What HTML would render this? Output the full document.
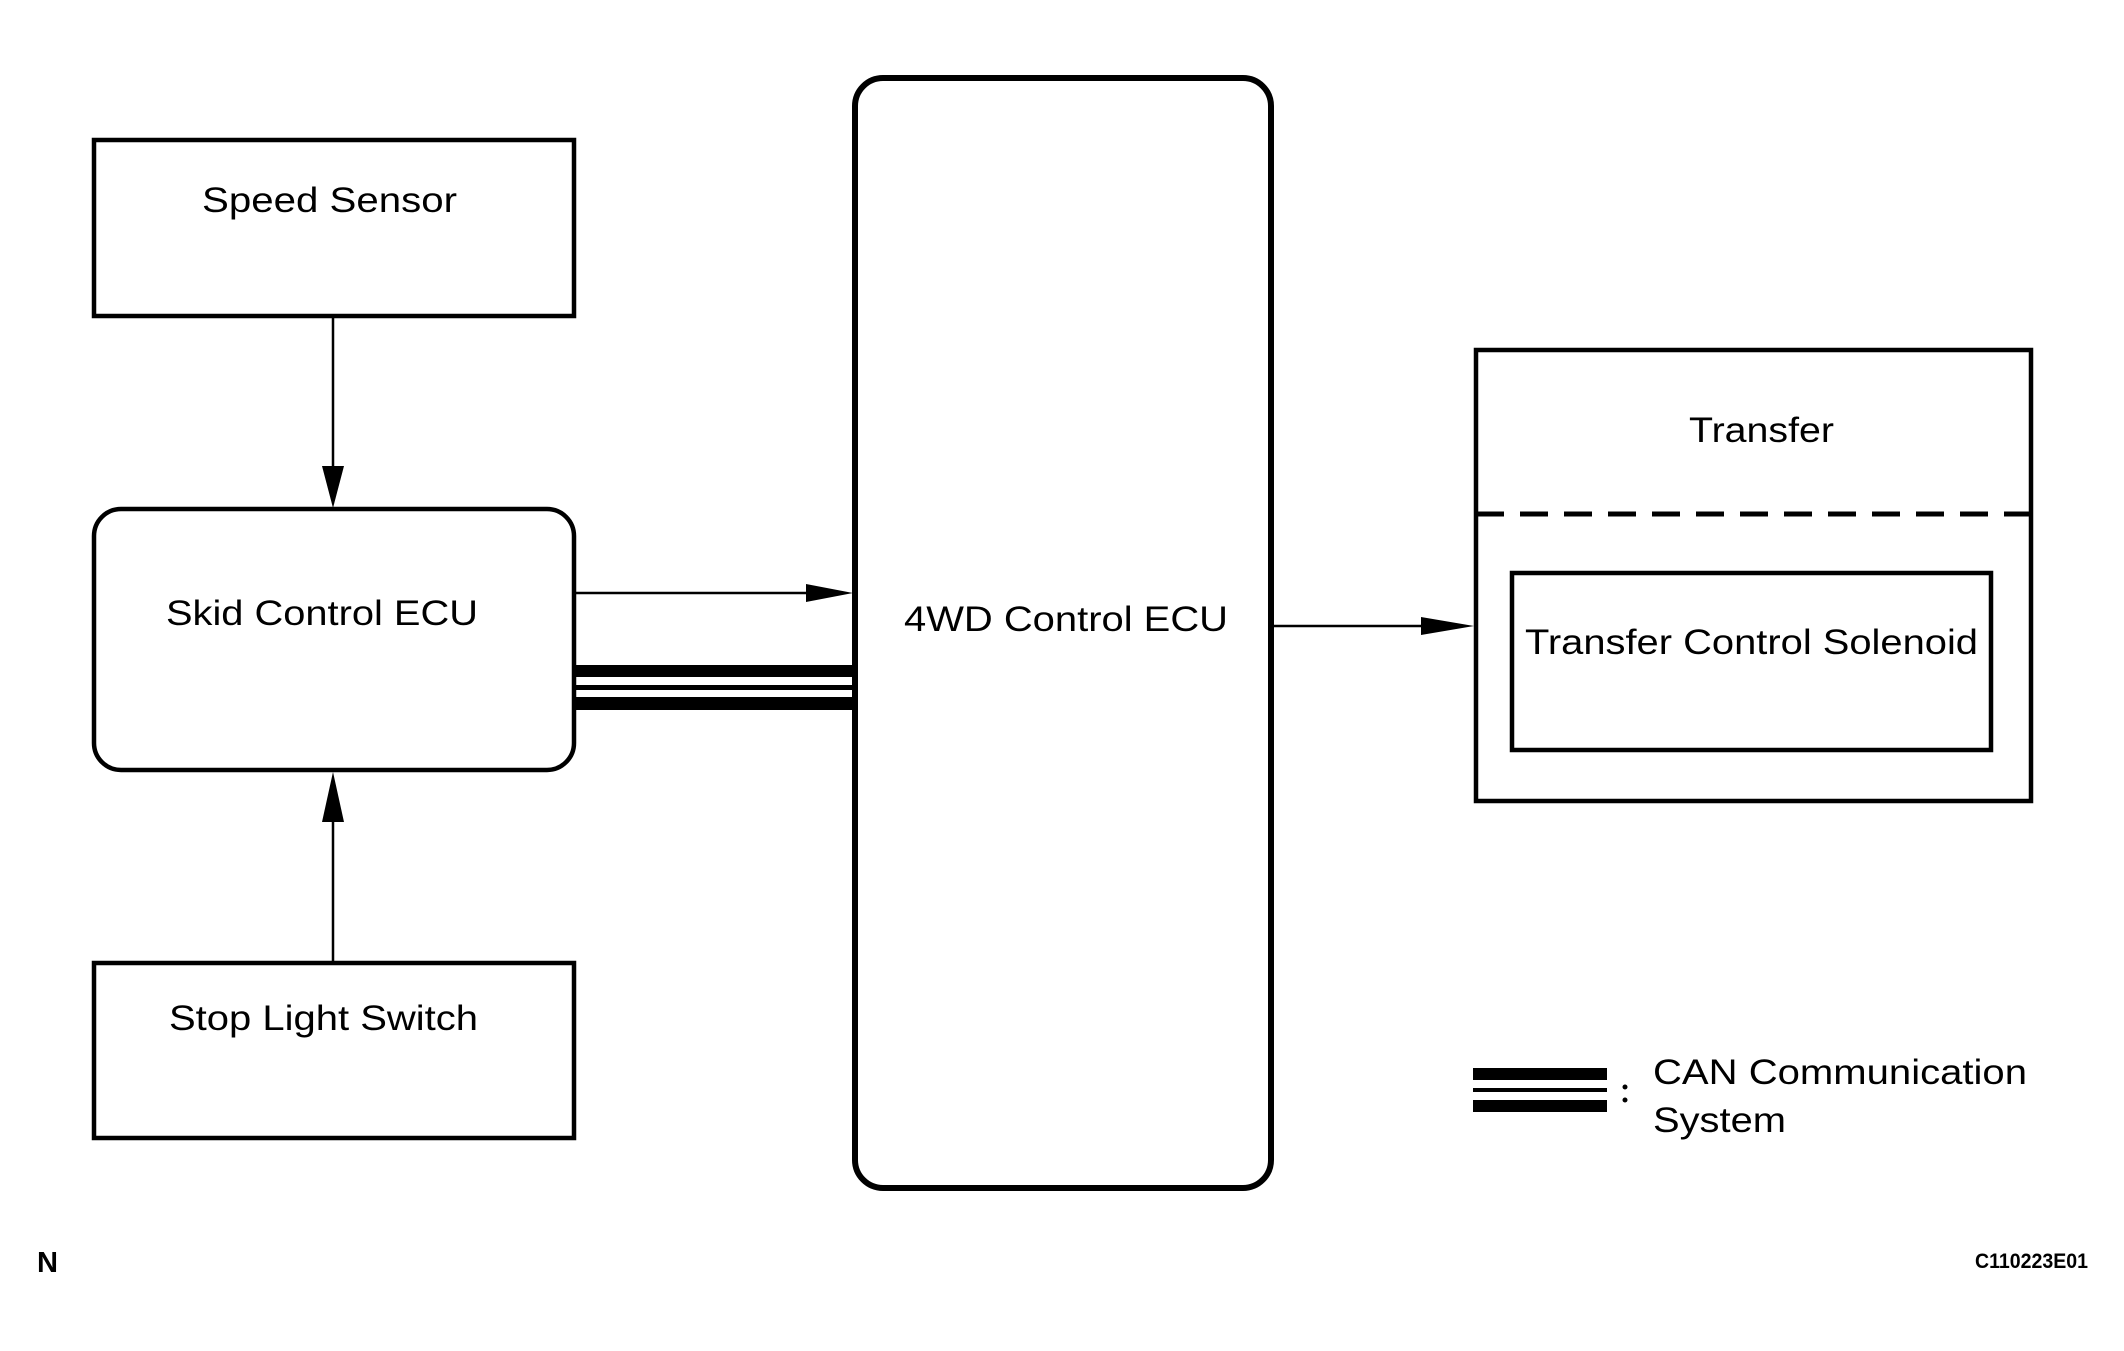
<!DOCTYPE html>
<html><head><meta charset="utf-8"><style>html,body{margin:0;padding:0;background:#fff}svg{display:block}</style></head>
<body>
<svg width="2124" height="1351" viewBox="0 0 2124 1351" xmlns="http://www.w3.org/2000/svg" font-family="Liberation Sans, Arial, sans-serif" font-size="35">
<rect width="2124" height="1351" fill="#fff"/>
<g fill="none" stroke="#000" stroke-width="4.5">
<rect x="94" y="140" width="480" height="176"/>
<rect x="94" y="509" width="480" height="261" rx="27"/>
<rect x="94" y="963" width="480" height="175"/>
<rect x="855" y="78" width="416" height="1110" rx="28" stroke-width="6"/>
<rect x="1476" y="350" width="555" height="451"/>
<rect x="1512" y="573" width="479" height="177"/>
</g>
<line x1="1476" y1="514" x2="2031" y2="514" stroke="#000" stroke-width="5" stroke-dasharray="28,16"/>
<g stroke="#000" stroke-width="2.5">
<line x1="333" y1="316" x2="333" y2="470"/>
<line x1="333" y1="963" x2="333" y2="815"/>
<line x1="576" y1="593" x2="810" y2="593"/>
<line x1="1271" y1="626" x2="1429" y2="626"/>
</g>
<g fill="#000">
<polygon points="322,466 344,466 333,508"/>
<polygon points="322,822 344,822 333,772"/>
<polygon points="806,584 853,593 806,602"/>
<polygon points="1421,617 1474,626 1421,635"/>
<rect x="576" y="665" width="277" height="12"/>
<rect x="576" y="685" width="277" height="5"/>
<rect x="576" y="697" width="277" height="13"/>
<rect x="1473" y="1068" width="134" height="12"/>
<rect x="1473" y="1088" width="134" height="4"/>
<rect x="1473" y="1100" width="134" height="12"/>
<circle cx="1625" cy="1087" r="2.5"/>
<circle cx="1625" cy="1100" r="2.5"/>
</g>
<g fill="#000">
<text x="202" y="212" textLength="255" lengthAdjust="spacingAndGlyphs">Speed Sensor</text>
<text x="166" y="625" textLength="312" lengthAdjust="spacingAndGlyphs">Skid Control ECU</text>
<text x="169" y="1030" textLength="309" lengthAdjust="spacingAndGlyphs">Stop Light Switch</text>
<text x="904" y="631" textLength="324" lengthAdjust="spacingAndGlyphs">4WD Control ECU</text>
<text x="1689" y="442" textLength="145" lengthAdjust="spacingAndGlyphs">Transfer</text>
<text x="1525" y="654" textLength="453" lengthAdjust="spacingAndGlyphs">Transfer Control Solenoid</text>
<text x="1653" y="1084" textLength="374" lengthAdjust="spacingAndGlyphs">CAN Communication</text>
<text x="1653" y="1132" textLength="133" lengthAdjust="spacingAndGlyphs">System</text>
<text x="37" y="1272" font-size="29" font-weight="bold" textLength="21" lengthAdjust="spacingAndGlyphs">N</text>
<text x="1975" y="1268" font-size="21" font-weight="bold" textLength="113" lengthAdjust="spacingAndGlyphs">C110223E01</text>
</g>
</svg>
</body></html>
